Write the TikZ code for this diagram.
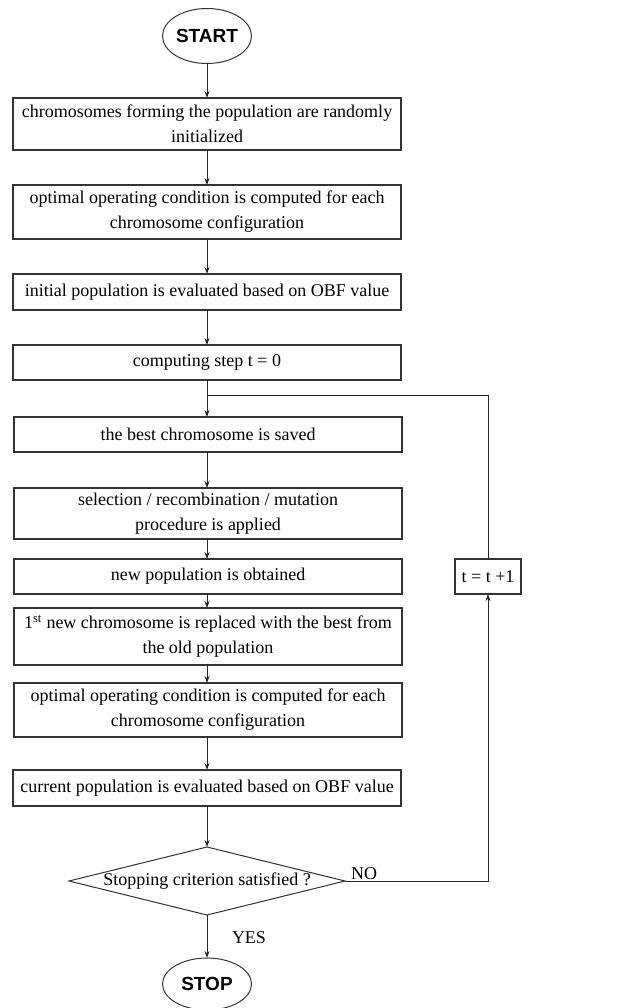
\documentclass[tikz,border=0pt]{standalone}
\usepackage{fontspec}
\setmainfont{Liberation Serif}
\newfontfamily\arialfont{Liberation Sans}
\usetikzlibrary{shapes.geometric,arrows.meta}
\begin{document}
\begin{tikzpicture}[x=1pt,y=-1pt,
  every node/.style={inner sep=0pt,outer sep=0pt},
  box/.style={draw=black!80,line width=1.2pt,minimum width=388pt,align=center,font=\fontsize{18}{25}\selectfont},
  term/.style={draw=black!80,line width=1pt,ellipse,minimum width=89pt,font=\arialfont\bfseries\fontsize{19}{22}\selectfont},
  arr/.style={draw=black!85,line width=0.9pt,-{Stealth[length=7pt,width=5pt]}},
  ln/.style={draw=black!85,line width=0.9pt},
  lbl/.style={font=\fontsize{18}{22}\selectfont}]
\useasboundingbox (0,0) rectangle (624,1008);
\node[term,minimum height=55pt] (start) at (207,36) {START};
\node[box,minimum height=52pt] (b1) at (207,124) {chromosomes forming the population are randomly\\initialized};
\node[box,minimum height=54pt] (b2) at (207,212) {optimal operating condition is computed for each\\chromosome configuration};
\node[box,minimum height=36pt] (b3) at (207,292) {initial population is evaluated based on OBF value};
\node[box,minimum height=35pt] (b4) at (207,362.5) {computing step t = 0};
\node[box,minimum height=35pt] (b5) at (208,434.5) {the best chromosome is saved};
\node[box,minimum height=51pt] (b6) at (208,513.5) {selection / recombination / mutation\\procedure is applied};
\node[box,minimum height=35pt] (b7) at (208,576.5) {new population is obtained};
\node[box,minimum height=57pt] (b8) at (208,636.5) {1\textsuperscript{st} new chromosome is replaced with the best from\\the old population};
\node[box,minimum height=54pt] (b9) at (208,710) {optimal operating condition is computed for each\\chromosome configuration};
\node[box,minimum height=36pt] (b10) at (207,788) {current population is evaluated based on OBF value};
\node[diamond,draw=black!80,line width=1pt,minimum width=276pt,minimum height=68pt,aspect=4] (dia) at (207,881) {};
\node[font=\fontsize{18}{22}\selectfont] (diat) at (207,881) {Stopping criterion satisfied ?};
\node[box,minimum width=66pt,minimum height=35pt] (tb) at (488,576.5) {t = t +1};
\node[term,minimum height=52pt] (stop) at (207,984) {STOP};
\coordinate (loop) at (207,395);
\draw[arr] (start) -- (b1);
\draw[arr] (b1) -- (b2);
\draw[arr] (b2) -- (b3);
\draw[arr] (b3) -- (b4);
\draw[arr] (b4.south) -- (b5.north -| b4.south);
\draw[arr] (b5.south -| b4.south) -- (b6.north -| b4.south);
\draw[arr] (b6.south -| b4.south) -- (b7.north -| b4.south);
\draw[arr] (b7.south -| b4.south) -- (b8.north -| b4.south);
\draw[arr] (b8.south -| b4.south) -- (b9.north -| b4.south);
\draw[arr] (b9.south -| b4.south) -- (b10.north -| b4.south);
\draw[arr] (b10) -- (dia.north);
\draw[arr] (dia.south) -- (stop);
\node[lbl,anchor=west] (yes) at (232,938) {YES};
\draw[arr] (dia.east) -- (dia.east -| tb) -- (tb.south);
\node[lbl,anchor=south west,xshift=6pt,yshift=1pt] (no) at (dia.east) {NO};
\draw[ln] (tb.north) |- (loop);
\end{tikzpicture}
\end{document}
